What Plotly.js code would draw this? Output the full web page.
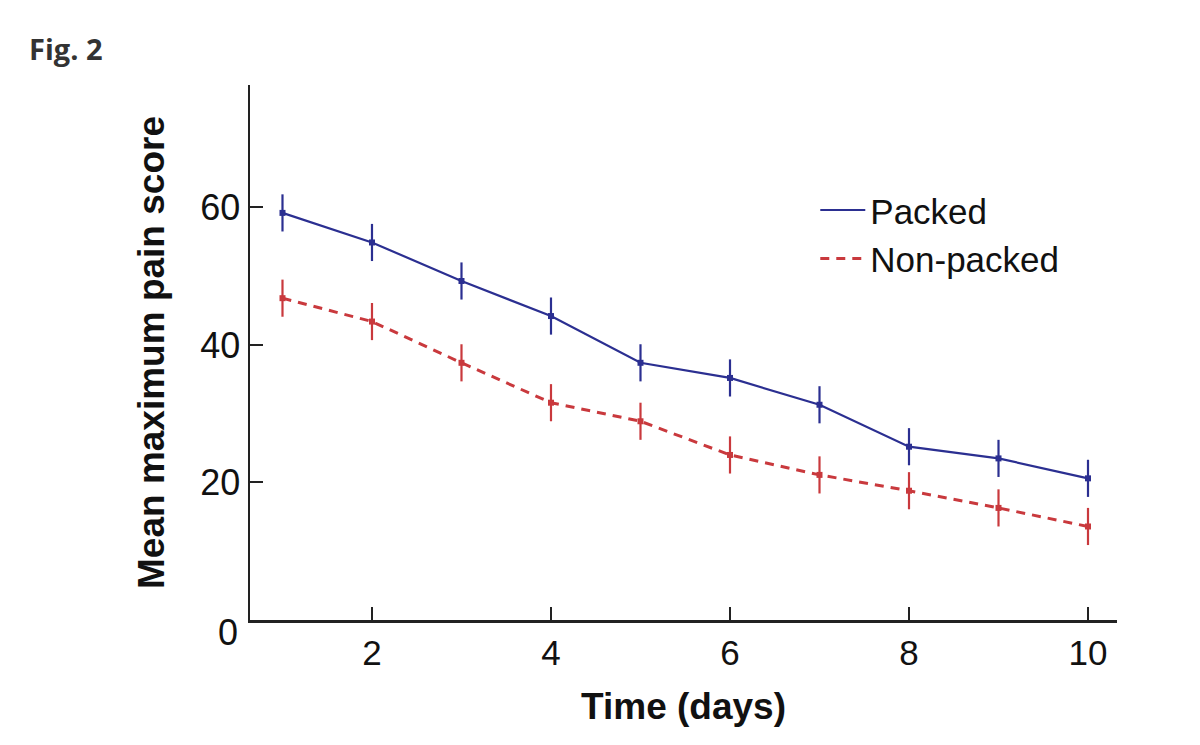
<!DOCTYPE html>
<html>
<head>
<meta charset="utf-8">
<script src="https://cdn.plot.ly/plotly-3.0.1.min.js"></script>
<style>
  html, body { margin: 0; padding: 0; background: #fff; }
  #chart { width: 1200px; height: 745px; }
</style>
</head>
<body>
<div id="chart"></div>
<script>
const days = [1, 2, 3, 4, 5, 6, 7, 8, 9, 10];
const packed = [59.2, 54.9, 49.3, 44.2, 37.4, 35.2, 31.3, 25.2, 23.5, 20.6];
const packedErr = [2.7, 2.7, 2.7, 2.7, 2.7, 2.7, 2.7, 2.7, 2.7, 2.7];
const nonPacked = [46.8, 43.4, 37.4, 31.6, 28.9, 24.0, 21.1, 18.8, 16.3, 13.6];
const nonPackedErr = [2.7, 2.7, 2.7, 2.7, 2.7, 2.7, 2.7, 2.7, 2.7, 2.7];
const seriesNames = ["Packed", "Non-packed"];
const xTicks = [2, 4, 6, 8, 10];
const yTicks = [20, 40, 60];

const blue = "#2b2f91";
const red = "#c9393d";
const redDash = "9px,7px";

const font = "Liberation Sans, Arial, Helvetica, sans-serif";

const traces = [
  {
    x: days, y: packed, name: seriesNames[0], type: "scatter", mode: "lines+markers", showlegend: false,
    line: { color: blue, width: 2.2 },
    marker: { color: blue, size: 6, symbol: "square" },
    error_y: { type: "data", array: packedErr, visible: true, color: blue, thickness: 2.2, width: 0 }
  },
  {
    x: days, y: nonPacked, name: seriesNames[1], type: "scatter", mode: "lines+markers", showlegend: false,
    line: { color: red, width: 3, dash: redDash },
    marker: { color: red, size: 6, symbol: "square" },
    error_y: { type: "data", array: nonPackedErr, visible: true, color: red, thickness: 2.2, width: 0 }
  },
  // legend entries (line only, as in the reference legend)
  { x: [null], y: [null], name: seriesNames[0], type: "scatter", mode: "lines", line: { color: blue, width: 2.2 } },
  { x: [null], y: [null], name: seriesNames[1], type: "scatter", mode: "lines", line: { color: red, width: 3, dash: redDash } }
];

const layout = {
  width: 1200, height: 745,
  paper_bgcolor: "#fff", plot_bgcolor: "#fff",
  margin: { l: 250, r: 83, t: 85, b: 125 },
  font: { family: font, size: 35, color: "#111" },
  showlegend: true,
  legend: {
    x: 0.652, y: 0.821, xanchor: "left", yanchor: "top",
    bgcolor: "rgba(0,0,0,0)", font: { family: font, size: 35, color: "#111" },
    tracegroupgap: 0, itemwidth: 45
  },
  xaxis: {
    range: [0.637, 10.324], tickvals: xTicks, ticktext: xTicks.map(String),
    ticks: "inside", ticklen: 13, tickwidth: 2, tickcolor: "#222",
    showline: true, linecolor: "#222", linewidth: 2.5, zeroline: false, showgrid: false,
    tickfont: { family: font, size: 35, color: "#111" },
    title: { text: "<b>Time (days)</b>", font: { family: font, size: 37, color: "#111" }, standoff: 23 }
  },
  yaxis: {
    range: [0, 77.8], tickvals: yTicks, ticktext: yTicks.map(String),
    ticks: "inside", ticklen: 13, tickwidth: 2, tickcolor: "#222",
    showline: true, linecolor: "#222", linewidth: 2.5, zeroline: false, showgrid: false,
    tickfont: { family: font, size: 36, color: "#111" },
    title: { text: "<b>Mean maximum pain score</b>", font: { family: font, size: 37, color: "#111" }, standoff: 25 }
  },
  annotations: [
    { text: "0", xref: "paper", yref: "paper", x: -0.0254, y: -0.024, xanchor: "center", yanchor: "middle",
      showarrow: false, font: { family: font, size: 36, color: "#111" } },
    { text: "<b>Fig. 2</b>", xref: "paper", yref: "paper", x: -0.257, y: 1.068, xanchor: "left", yanchor: "middle",
      showarrow: false, font: { family: "Open Sans, Noto Sans, sans-serif", size: 29, color: "#333" } }
  ]
};

Plotly.newPlot("chart", traces, layout, { displayModeBar: false, staticPlot: true });
</script>
</body>
</html>
